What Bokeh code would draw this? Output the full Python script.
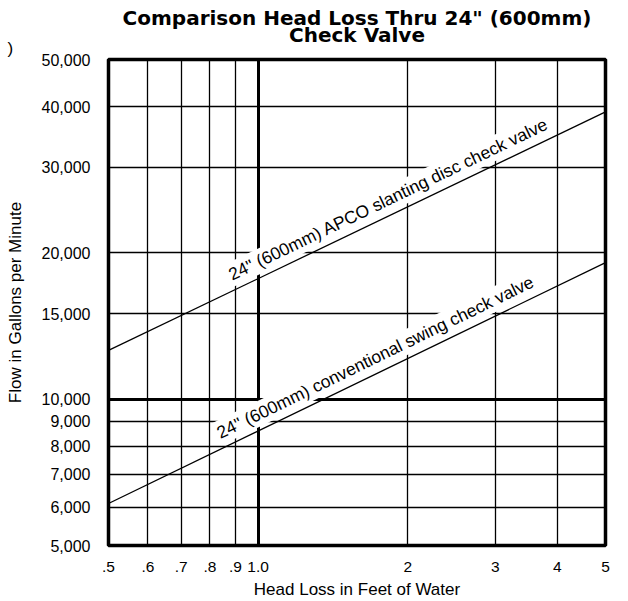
import math
import numpy as np
from bokeh.plotting import figure
from bokeh.models import FixedTicker, NumeralTickFormatter, Grid, Title
from bokeh.core.properties import value
from bokeh.embed import file_html
from bokeh.resources import INLINE

# ---- data ----
head_ticks = [0.5, 0.6, 0.7, 0.8, 0.9, 1, 2, 3, 4, 5]
head_tick_labels = [".5", ".6", ".7", ".8", ".9", "1.0", "2", "3", "4", "5"]
flow_ticks = [5000, 6000, 7000, 8000, 9000, 10000, 15000, 20000, 30000, 40000, 50000]

apco_head = [0.5, 5.0]
apco_flow = [12600, 39000]
swing_head = [0.5, 5.0]
swing_flow = [6100, 19100]

apco_label = '24" (600mm) APCO slanting disc check valve'
swing_label = '24" (600mm) conventional swing check valve'
apco_label_x = 1.83
swing_label_x = 1.72

title_lines = ['Comparison Head Loss Thru 24" (600mm)', 'Check Valve']
corner_mark = ")"

FONT = "Liberation Sans"
X0, X1 = 0.5, 5
Y0, Y1 = 5000, 50000

p = figure(width=628, height=601, x_axis_type="log", y_axis_type="log",
           x_range=(X0, X1), y_range=(Y0, Y1),
           output_backend="svg", toolbar_location=None,
           min_border_left=108, min_border_right=23,
           min_border_top=59, min_border_bottom=55)

p.outline_line_color = "black"
p.outline_line_width = 3.5
p.background_fill_color = "white"

# titles
def style_title(t):
    t.align = "center"
    t.text_font = "DejaVu Sans"
    t.text_font_style = "bold"
    t.text_font_size = "20px"
    t.text_color = "black"

p.title.text = title_lines[0]
style_title(p.title)
p.title.standoff = 5.7

mark = Title(text=corner_mark, align="left", offset=-101, standoff=3,
             text_font=FONT, text_font_style="normal", text_font_size="17px",
             text_color="black")
p.add_layout(mark, "above")

t2 = Title(text=title_lines[1], standoff=-22.7)
style_title(t2)
p.add_layout(t2, "above")

# axes
p.xaxis.ticker = FixedTicker(ticks=head_ticks, minor_ticks=[])
p.xaxis.major_label_overrides = {t: l for t, l in zip(head_ticks, head_tick_labels)}
p.yaxis.ticker = FixedTicker(ticks=flow_ticks, minor_ticks=[])
p.yaxis.formatter = NumeralTickFormatter(format="0,0")
for ax in (p.xaxis, p.yaxis):
    ax.axis_line_color = None
    ax.major_tick_line_color = None
    ax.minor_tick_line_color = None
    ax.major_tick_out = 0
    ax.major_tick_in = 0
    ax.minor_tick_out = 0
    ax.minor_tick_in = 0
    ax.major_label_text_font = FONT
    ax.major_label_text_color = "black"
    ax.axis_label_text_font = FONT
    ax.axis_label_text_font_size = "17px"
    ax.axis_label_text_font_style = "normal"
    ax.axis_label_text_color = "black"
p.xaxis.major_label_text_font_size = "15.5px"
p.yaxis.major_label_text_font_size = "16px"
p.xaxis.major_label_standoff = 16
p.yaxis.major_label_standoff = 18
p.xaxis.axis_label = "Head Loss in Feet of Water"
p.yaxis.axis_label = "Flow in Gallons per Minute"
p.xaxis.axis_label_standoff = 5
p.yaxis.axis_label_standoff = 14

# thin grid
p.xgrid.ticker = FixedTicker(ticks=[t for t in head_ticks if t not in (0.5, 1, 5)], minor_ticks=[])
p.ygrid.ticker = FixedTicker(ticks=[t for t in flow_ticks if t not in (5000, 10000, 50000)], minor_ticks=[])
for g in (p.xgrid, p.ygrid):
    g.grid_line_color = "black"
    g.grid_line_width = 1.3
    g.grid_line_alpha = 1.0

# heavy lines at 1.0 ft and 10,000 gpm
p.add_layout(Grid(dimension=0, ticker=FixedTicker(ticks=[1], minor_ticks=[]),
                  grid_line_color="black", grid_line_width=3))
p.add_layout(Grid(dimension=1, ticker=FixedTicker(ticks=[10000], minor_ticks=[]),
                  grid_line_color="black", grid_line_width=3))

# series
p.line(apco_head, apco_flow, line_color="black", line_width=1.3)
p.line(swing_head, swing_flow, line_color="black", line_width=1.3)

def on_line(hx, heads, flows):
    return 10 ** np.interp(math.log10(hx), np.log10(heads), np.log10(flows))

def screen_angle(heads, flows):
    # frame is 497 px wide and 487 px tall, each one decade
    s = (math.log10(flows[1]) - math.log10(flows[0])) / (math.log10(heads[1]) - math.log10(heads[0]))
    return math.atan(s * 487 / 497)

for hx, heads, flows, txt in ((apco_label_x, apco_head, apco_flow, apco_label),
                              (swing_label_x, swing_head, swing_flow, swing_label)):
    p.text(x=[hx], y=[on_line(hx, heads, flows)], text=[txt],
           angle=screen_angle(heads, flows), text_align="center", text_baseline="middle",
           y_offset=-17, text_font=value(FONT), text_font_size="17.5px", text_color="black",
           background_fill_color="white", padding=2)

open("out.html", "w").write(file_html(p, INLINE))
